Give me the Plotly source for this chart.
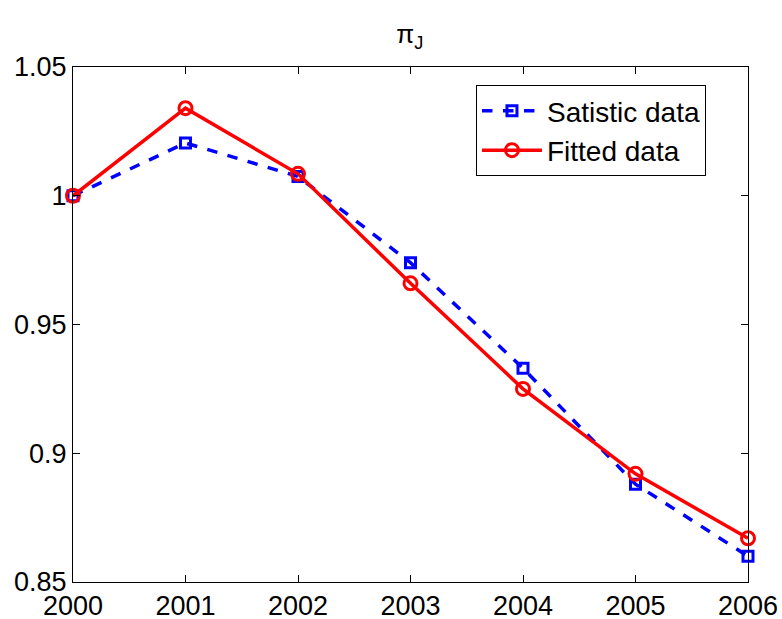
import plotly.graph_objects as go

years = [2000, 2001, 2002, 2003, 2004, 2005, 2006]
satistic = [1.0, 1.0205, 1.0075, 0.974, 0.933, 0.888, 0.860]
fitted = [1.0, 1.034, 1.0085, 0.966, 0.925, 0.892, 0.867]
x_ticks = [2000, 2001, 2002, 2003, 2004, 2005, 2006]
y_ticks = [0.85, 0.9, 0.95, 1.0, 1.05]
y_labels = ["0.85", "0.9", "0.95", "1", "1.05"]

FONT = "Liberation Sans, Arial, sans-serif"

fig = go.Figure()
fig.add_trace(go.Scatter(
    x=years, y=satistic, mode="lines+markers", name="Satistic data",
    line=dict(color="#0000ff", width=3.5, dash="dash"),
    marker=dict(symbol="square-open", size=10, color="#0000ff", line=dict(width=3)),
    cliponaxis=False,
))
fig.add_trace(go.Scatter(
    x=years, y=fitted, mode="lines+markers", name="Fitted data",
    line=dict(color="#ff0000", width=3.5),
    marker=dict(symbol="circle-open", size=13, color="#ff0000", line=dict(width=3)),
    cliponaxis=False,
))

axis_common = dict(
    showline=True, linecolor="black", linewidth=1, mirror="allticks",
    ticks="inside", ticklen=7, tickcolor="black", showgrid=False, zeroline=False,
    tickfont=dict(family=FONT, size=27, color="black"),
    ticklabeloverflow="allow", automargin=False,
)

fig.update_layout(
    width=782, height=619,
    margin=dict(l=73, r=34, t=67, b=37),
    paper_bgcolor="white", plot_bgcolor="white",
    title=dict(text="π<sub>J</sub>", x=0.524, xanchor="center", y=0.945, yanchor="middle",
               font=dict(family=FONT, size=26, color="black")),
    xaxis=dict(range=[2000, 2006], tickvals=x_ticks, ticktext=[str(v) for v in x_ticks],
               ticklabelstandoff=0, **axis_common),
    yaxis=dict(range=[0.85, 1.05], tickvals=y_ticks, ticktext=y_labels,
               ticklabelstandoff=0, **axis_common),
    legend=dict(x=0.597, y=0.965, xanchor="left", yanchor="top",
                bordercolor="black", borderwidth=1, bgcolor="white",
                font=dict(family=FONT, size=28, color="black"),
                itemwidth=60, tracegroupgap=0),
    showlegend=True,
)

fig.write_html("out.html")
